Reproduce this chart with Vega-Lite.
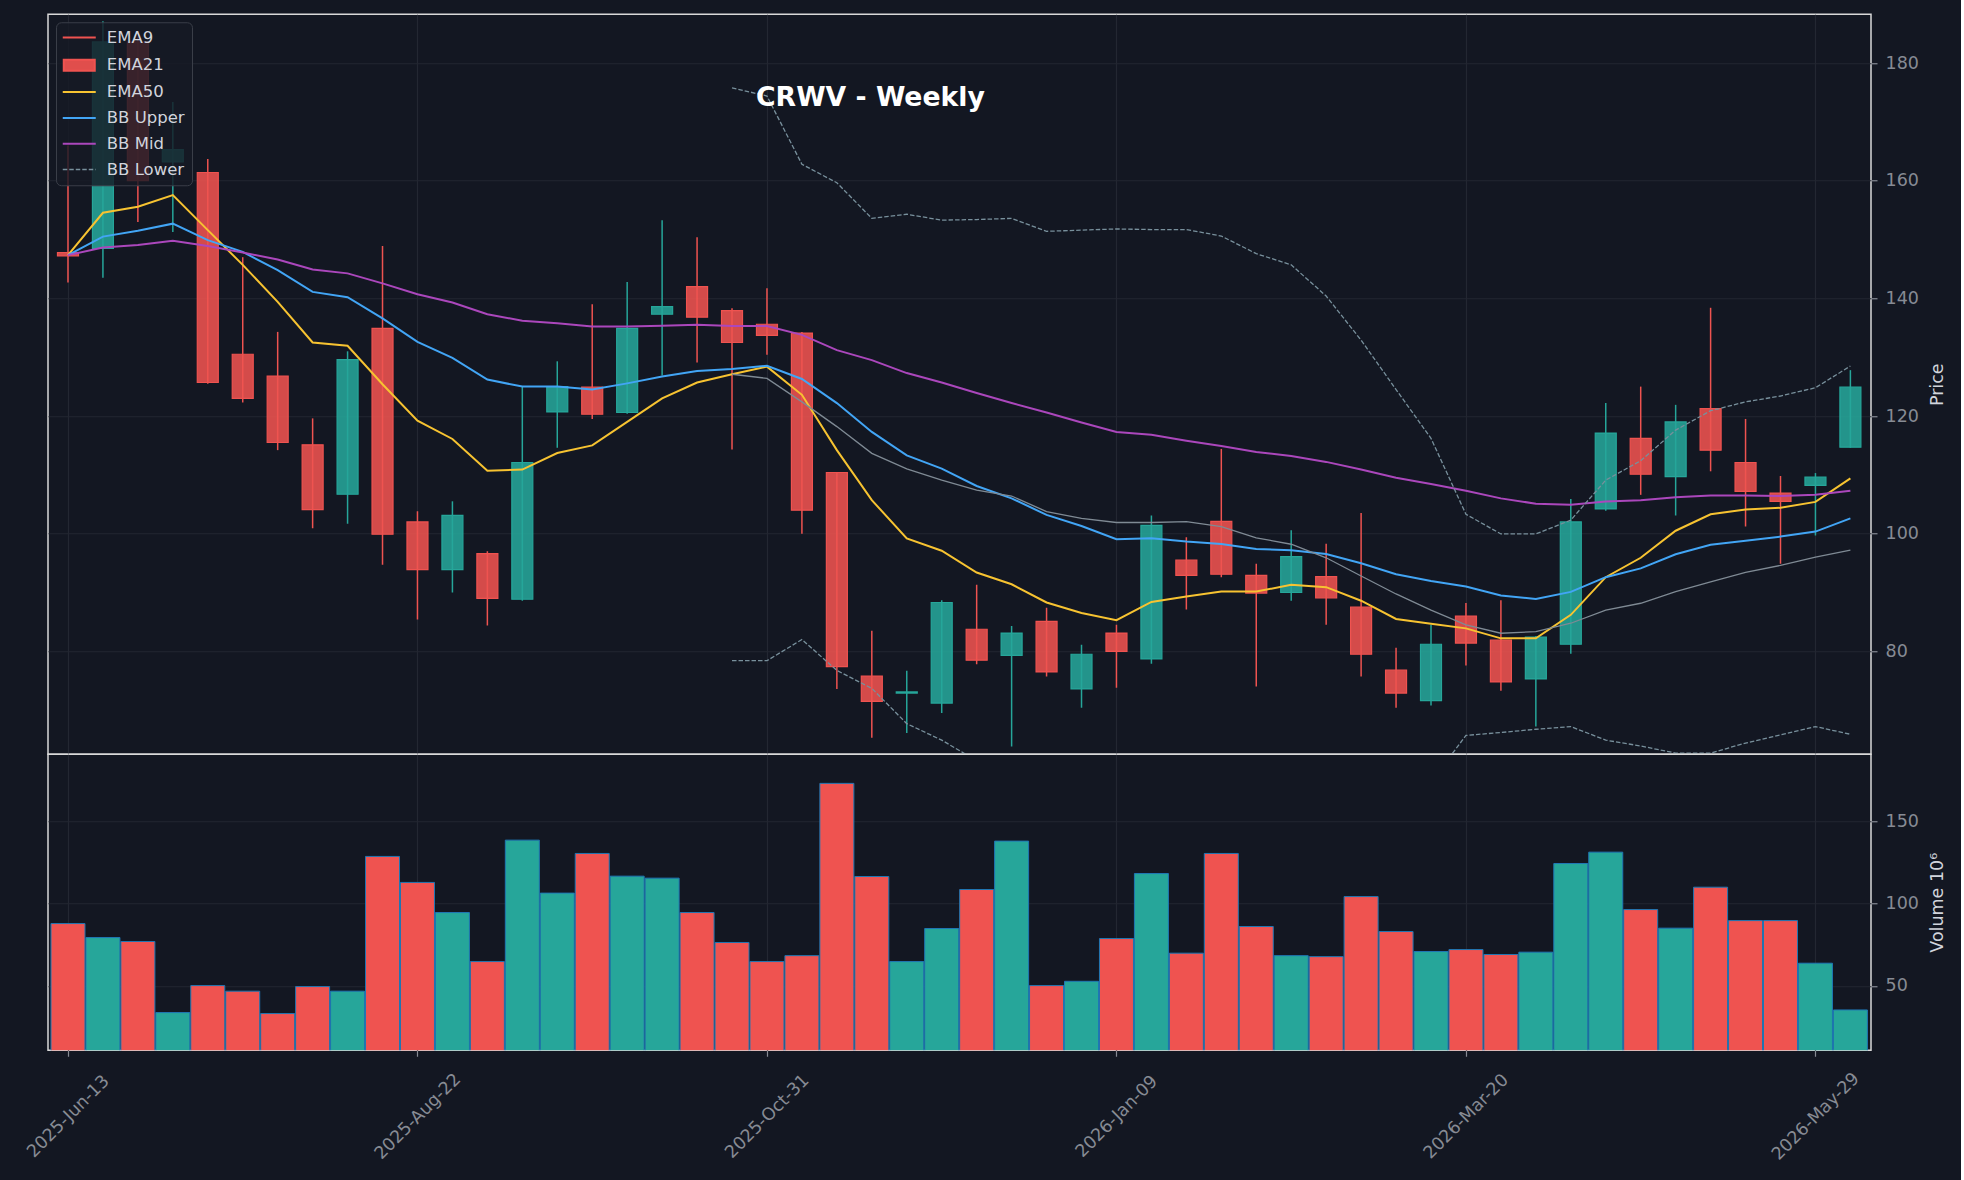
{
  "$schema": "https://vega.github.io/schema/vega-lite/v6.json",
  "background": "#131722",
  "padding": {"left": 22, "top": 13.25, "right": 14, "bottom": 16.5},
  "spacing": 0,
  "bounds": "flush",
  "data": {
    "values": [
      {"date":"2025-06-13","open":147.8,"high":166.0,"low":142.7,"close":147.2,"volume":87900000,"EMA9":147.35,"EMA21":147.35,"EMA50":147.35,"BB Upper":null,"BB Mid":null,"BB Lower":null},
      {"date":"2025-06-20","open":148.5,"high":187.1,"low":143.5,"close":183.6,"volume":79400000,"EMA9":154.55,"EMA21":150.5,"EMA50":148.66,"BB Upper":null,"BB Mid":null,"BB Lower":null},
      {"date":"2025-06-27","open":183.6,"high":184.5,"low":153.0,"close":160.0,"volume":77000000,"EMA9":155.57,"EMA21":151.5,"EMA50":149.06,"BB Upper":null,"BB Mid":null,"BB Lower":null},
      {"date":"2025-07-04","open":163.2,"high":173.4,"low":151.3,"close":165.3,"volume":33800000,"EMA9":157.55,"EMA21":152.7,"EMA50":149.8,"BB Upper":null,"BB Mid":null,"BB Lower":null},
      {"date":"2025-07-11","open":161.4,"high":163.7,"low":125.5,"close":125.7,"volume":50200000,"EMA9":151.6,"EMA21":149.9,"EMA50":148.9,"BB Upper":null,"BB Mid":null,"BB Lower":null},
      {"date":"2025-07-18","open":130.5,"high":147.0,"low":122.3,"close":123.0,"volume":46800000,"EMA9":145.7,"EMA21":147.9,"EMA50":147.8,"BB Upper":null,"BB Mid":null,"BB Lower":null},
      {"date":"2025-07-25","open":126.8,"high":134.3,"low":114.2,"close":115.5,"volume":33200000,"EMA9":139.4,"EMA21":144.8,"EMA50":146.6,"BB Upper":null,"BB Mid":null,"BB Lower":null},
      {"date":"2025-08-01","open":115.1,"high":119.6,"low":100.9,"close":104.1,"volume":49600000,"EMA9":132.5,"EMA21":141.1,"EMA50":144.9,"BB Upper":null,"BB Mid":null,"BB Lower":null},
      {"date":"2025-08-08","open":106.7,"high":131.0,"low":101.7,"close":129.6,"volume":46800000,"EMA9":131.95,"EMA21":140.2,"EMA50":144.25,"BB Upper":null,"BB Mid":null,"BB Lower":null},
      {"date":"2025-08-15","open":134.9,"high":148.9,"low":94.7,"close":99.9,"volume":128700000,"EMA9":125.4,"EMA21":136.6,"EMA50":142.55,"BB Upper":null,"BB Mid":null,"BB Lower":null},
      {"date":"2025-08-22","open":102.0,"high":103.8,"low":85.4,"close":93.9,"volume":112900000,"EMA9":119.2,"EMA21":132.6,"EMA50":140.7,"BB Upper":null,"BB Mid":null,"BB Lower":null},
      {"date":"2025-08-29","open":93.9,"high":105.5,"low":90.0,"close":103.1,"volume":94600000,"EMA9":116.1,"EMA21":129.9,"EMA50":139.3,"BB Upper":null,"BB Mid":null,"BB Lower":null},
      {"date":"2025-09-05","open":96.6,"high":97.0,"low":84.4,"close":89.0,"volume":64800000,"EMA9":110.7,"EMA21":126.2,"EMA50":137.3,"BB Upper":null,"BB Mid":null,"BB Lower":null},
      {"date":"2025-09-12","open":88.85,"high":125.0,"low":88.6,"close":112.1,"volume":138600000,"EMA9":110.9,"EMA21":125.0,"EMA50":136.2,"BB Upper":null,"BB Mid":null,"BB Lower":null},
      {"date":"2025-09-19","open":120.7,"high":129.3,"low":114.6,"close":125.0,"volume":106400000,"EMA9":113.7,"EMA21":125.0,"EMA50":135.75,"BB Upper":null,"BB Mid":null,"BB Lower":null},
      {"date":"2025-09-26","open":124.9,"high":139.0,"low":119.5,"close":120.3,"volume":130500000,"EMA9":115.0,"EMA21":124.5,"EMA50":135.2,"BB Upper":null,"BB Mid":null,"BB Lower":null},
      {"date":"2025-10-03","open":120.6,"high":142.8,"low":120.4,"close":134.9,"volume":116700000,"EMA9":119.0,"EMA21":125.55,"EMA50":135.2,"BB Upper":null,"BB Mid":null,"BB Lower":null},
      {"date":"2025-10-10","open":137.3,"high":153.3,"low":126.9,"close":138.6,"volume":115500000,"EMA9":123.0,"EMA21":126.7,"EMA50":135.35,"BB Upper":null,"BB Mid":null,"BB Lower":null},
      {"date":"2025-10-17","open":142.0,"high":150.4,"low":129.1,"close":136.8,"volume":94600000,"EMA9":125.7,"EMA21":127.65,"EMA50":135.5,"BB Upper":null,"BB Mid":null,"BB Lower":null},
      {"date":"2025-10-24","open":137.9,"high":138.3,"low":114.3,"close":132.5,"volume":76400000,"EMA9":127.1,"EMA21":128.0,"EMA50":135.3,"BB Upper":175.8,"BB Mid":127.1,"BB Lower":78.4},
      {"date":"2025-10-31","open":135.6,"high":141.7,"low":130.4,"close":133.7,"volume":64800000,"EMA9":128.4,"EMA21":128.55,"EMA50":135.3,"BB Upper":174.4,"BB Mid":126.4,"BB Lower":78.4},
      {"date":"2025-11-07","open":134.1,"high":134.3,"low":100.0,"close":104.0,"volume":68400000,"EMA9":123.6,"EMA21":126.3,"EMA50":133.8,"BB Upper":162.8,"BB Mid":122.4,"BB Lower":82.0},
      {"date":"2025-11-14","open":110.4,"high":110.5,"low":73.6,"close":77.4,"volume":173100000,"EMA9":114.2,"EMA21":122.2,"EMA50":131.2,"BB Upper":159.65,"BB Mid":118.2,"BB Lower":76.75},
      {"date":"2025-11-21","open":75.8,"high":83.5,"low":65.3,"close":71.5,"volume":116500000,"EMA9":105.7,"EMA21":117.3,"EMA50":129.5,"BB Upper":153.6,"BB Mid":113.65,"BB Lower":73.7},
      {"date":"2025-11-28","open":72.9,"high":76.7,"low":66.1,"close":73.1,"volume":64800000,"EMA9":99.2,"EMA21":113.3,"EMA50":127.3,"BB Upper":154.3,"BB Mid":111.0,"BB Lower":67.7},
      {"date":"2025-12-05","open":71.2,"high":88.7,"low":69.5,"close":88.3,"volume":84900000,"EMA9":97.1,"EMA21":111.06,"EMA50":125.7,"BB Upper":153.3,"BB Mid":109.1,"BB Lower":64.9},
      {"date":"2025-12-12","open":83.75,"high":91.3,"low":77.8,"close":78.5,"volume":108600000,"EMA9":93.4,"EMA21":108.1,"EMA50":123.9,"BB Upper":153.4,"BB Mid":107.4,"BB Lower":61.4},
      {"date":"2025-12-19","open":79.3,"high":84.3,"low":63.8,"close":83.1,"volume":138000000,"EMA9":91.4,"EMA21":106.0,"EMA50":122.2,"BB Upper":153.6,"BB Mid":106.4,"BB Lower":59.2},
      {"date":"2025-12-26","open":85.1,"high":87.4,"low":75.7,"close":76.5,"volume":50200000,"EMA9":88.3,"EMA21":103.2,"EMA50":120.6,"BB Upper":151.4,"BB Mid":103.75,"BB Lower":56.1},
      {"date":"2026-01-02","open":73.6,"high":81.1,"low":70.4,"close":79.5,"volume":52800000,"EMA9":86.5,"EMA21":101.3,"EMA50":118.9,"BB Upper":151.6,"BB Mid":102.6,"BB Lower":53.6},
      {"date":"2026-01-09","open":83.1,"high":84.5,"low":73.8,"close":80.0,"volume":78800000,"EMA9":85.3,"EMA21":99.05,"EMA50":117.3,"BB Upper":151.8,"BB Mid":101.9,"BB Lower":52.0},
      {"date":"2026-01-16","open":78.7,"high":103.1,"low":77.9,"close":101.4,"volume":118300000,"EMA9":88.4,"EMA21":99.2,"EMA50":116.8,"BB Upper":151.7,"BB Mid":101.9,"BB Lower":52.1},
      {"date":"2026-01-23","open":95.5,"high":99.4,"low":87.1,"close":92.9,"volume":69900000,"EMA9":89.3,"EMA21":98.65,"EMA50":115.8,"BB Upper":151.7,"BB Mid":102.05,"BB Lower":52.4},
      {"date":"2026-01-30","open":102.1,"high":114.4,"low":92.6,"close":93.1,"volume":130500000,"EMA9":90.15,"EMA21":98.25,"EMA50":114.9,"BB Upper":150.6,"BB Mid":101.2,"BB Lower":51.8},
      {"date":"2026-02-06","open":92.9,"high":94.9,"low":74.0,"close":89.9,"volume":86100000,"EMA9":90.15,"EMA21":97.4,"EMA50":113.9,"BB Upper":147.6,"BB Mid":99.3,"BB Lower":51.0},
      {"date":"2026-02-13","open":90.0,"high":100.6,"low":88.6,"close":96.1,"volume":68400000,"EMA9":91.3,"EMA21":97.2,"EMA50":113.2,"BB Upper":145.7,"BB Mid":98.2,"BB Lower":50.7},
      {"date":"2026-02-20","open":92.7,"high":98.3,"low":84.5,"close":89.1,"volume":67800000,"EMA9":90.9,"EMA21":96.55,"EMA50":112.2,"BB Upper":140.4,"BB Mid":95.9,"BB Lower":51.4},
      {"date":"2026-02-27","open":87.5,"high":103.5,"low":75.7,"close":79.5,"volume":104300000,"EMA9":88.6,"EMA21":94.97,"EMA50":110.9,"BB Upper":132.9,"BB Mid":92.8,"BB Lower":52.7},
      {"date":"2026-03-06","open":76.8,"high":80.6,"low":70.4,"close":72.9,"volume":83050000,"EMA9":85.5,"EMA21":93.1,"EMA50":109.5,"BB Upper":124.5,"BB Mid":89.75,"BB Lower":55.0},
      {"date":"2026-03-13","open":71.6,"high":84.5,"low":70.8,"close":81.2,"volume":70900000,"EMA9":84.7,"EMA21":91.97,"EMA50":108.45,"BB Upper":116.2,"BB Mid":87.0,"BB Lower":57.8},
      {"date":"2026-03-20","open":86.0,"high":88.2,"low":77.6,"close":81.4,"volume":72100000,"EMA9":83.9,"EMA21":91.0,"EMA50":107.3,"BB Upper":103.3,"BB Mid":84.5,"BB Lower":65.7},
      {"date":"2026-03-27","open":81.9,"high":88.7,"low":73.3,"close":74.8,"volume":69100000,"EMA9":82.2,"EMA21":89.5,"EMA50":106.0,"BB Upper":99.95,"BB Mid":83.07,"BB Lower":66.2},
      {"date":"2026-04-03","open":75.3,"high":82.6,"low":67.2,"close":82.4,"volume":70500000,"EMA9":82.2,"EMA21":88.9,"EMA50":105.1,"BB Upper":99.95,"BB Mid":83.35,"BB Lower":66.75},
      {"date":"2026-04-10","open":81.2,"high":105.9,"low":79.6,"close":102.0,"volume":124400000,"EMA9":86.2,"EMA21":90.1,"EMA50":104.9,"BB Upper":102.3,"BB Mid":84.77,"BB Lower":67.2},
      {"date":"2026-04-17","open":104.2,"high":122.2,"low":103.9,"close":117.1,"volume":131300000,"EMA9":92.6,"EMA21":92.6,"EMA50":105.45,"BB Upper":109.1,"BB Mid":87.0,"BB Lower":64.9},
      {"date":"2026-04-24","open":116.2,"high":125.0,"low":106.6,"close":110.1,"volume":96400000,"EMA9":95.9,"EMA21":94.1,"EMA50":105.7,"BB Upper":112.4,"BB Mid":88.17,"BB Lower":63.9},
      {"date":"2026-05-01","open":109.7,"high":121.9,"low":103.1,"close":119.0,"volume":85100000,"EMA9":100.5,"EMA21":96.5,"EMA50":106.2,"BB Upper":117.6,"BB Mid":90.15,"BB Lower":62.7},
      {"date":"2026-05-08","open":121.25,"high":138.4,"low":110.6,"close":114.2,"volume":110000000,"EMA9":103.3,"EMA21":98.1,"EMA50":106.5,"BB Upper":120.9,"BB Mid":91.8,"BB Lower":62.7},
      {"date":"2026-05-15","open":112.1,"high":119.5,"low":101.2,"close":107.2,"volume":89700000,"EMA9":104.1,"EMA21":98.8,"EMA50":106.5,"BB Upper":122.4,"BB Mid":93.4,"BB Lower":64.4},
      {"date":"2026-05-22","open":106.9,"high":109.8,"low":94.9,"close":105.5,"volume":89700000,"EMA9":104.4,"EMA21":99.5,"EMA50":106.4,"BB Upper":123.4,"BB Mid":94.6,"BB Lower":65.8},
      {"date":"2026-05-29","open":108.2,"high":110.3,"low":99.7,"close":109.6,"volume":63800000,"EMA9":105.4,"EMA21":100.35,"EMA50":106.6,"BB Upper":124.8,"BB Mid":96.0,"BB Lower":67.2},
      {"date":"2026-06-05","open":114.7,"high":127.8,"low":114.6,"close":124.9,"volume":35400000,"EMA9":109.4,"EMA21":102.6,"EMA50":107.3,"BB Upper":128.5,"BB Mid":97.2,"BB Lower":65.9}
    ]
  },
  "vconcat": [
    {
      "width": 1823,
      "height": 740,
      "title": {
        "text": "CRWV - Weekly",
        "anchor": "start",
        "frame": "group",
        "orient": "top",
        "offset": -124,
        "dx": 708,
        "baseline": "bottom",
        "font": "DejaVu Sans",
        "fontSize": 26.7,
        "fontWeight": "bold",
        "color": "#ffffff"
      },
      "encoding": {
        "x": {
          "field": "date",
          "type": "temporal",
          "scale": {
            "type": "utc",
            "nice": false,
            "domain": [
              {"year": 2025, "month": 6, "date": 10, "utc": true},
              {"year": 2026, "month": 6, "date": 8, "hours": 3, "utc": true}
            ]
          },
          "axis": {
            "title": null,
            "labels": false,
            "ticks": false,
            "domain": false,
            "grid": true,
            "values": [
              {"year": 2025, "month": 6, "date": 13, "utc": true},
              {"year": 2025, "month": 8, "date": 22, "utc": true},
              {"year": 2025, "month": 10, "date": 31, "utc": true},
              {"year": 2026, "month": 1, "date": 9, "utc": true},
              {"year": 2026, "month": 3, "date": 20, "utc": true},
              {"year": 2026, "month": 5, "date": 29, "utc": true}
            ]
          }
        }
      },
      "layer": [
        {
          "mark": {"type": "rule", "strokeWidth": 1.5, "clip": true},
          "encoding": {
            "y": {
              "field": "low",
              "type": "quantitative",
              "title": "Price",
              "scale": {"domain": [62.5, 188.3], "nice": false, "zero": false},
              "axis": {
                "orient": "right",
                "values": [80, 100, 120, 140, 160, 180],
                "grid": true,
                "labelPadding": 8,
                "titleAngle": 270,
                "titleBaseline": "top",
                "titlePadding": 10
              }
            },
            "y2": {"field": "high"},
            "color": {"condition": {"test": "datum.close >= datum.open", "value": "#26a69a"}, "value": "#ef5350"}
          }
        },
        {
          "mark": {"type": "bar", "width": 21, "strokeWidth": 1.2, "fillOpacity": 0.88, "clip": true},
          "encoding": {
            "y": {"field": "open", "type": "quantitative", "title": "Price"},
            "y2": {"field": "close"},
            "fill": {"condition": {"test": "datum.close >= datum.open", "value": "#26a69a"}, "value": "#ef5350"},
            "stroke": {"condition": {"test": "datum.close >= datum.open", "value": "#26a69a"}, "value": "#ef5350"}
          }
        },
        {
          "transform": [{"fold": ["EMA9", "EMA21", "EMA50"], "as": ["series", "value"]}],
          "mark": {"type": "line", "strokeWidth": 2, "clip": true},
          "encoding": {
            "y": {"field": "value", "type": "quantitative", "title": "Price"},
            "color": {
              "field": "series",
              "type": "nominal",
              "scale": {
                "domain": ["Wick", "Body", "EMA9", "EMA21", "EMA50", "BB Upper", "BB Mid", "BB Lower"],
                "range": ["#ef5350", "#ef5350", "#f7c331", "#42a5f5", "#ab47bc", "#78909c", "#7f8a94", "#78909c"]
              },
              "legend": {
                "title": null,
                "orient": "top-left",
                "offset": 7.5,
                "values": ["Wick", "Body", "EMA9", "EMA21", "EMA50", "BB Upper"],
                "labelExpr": "datum.value === 'Wick' ? 'EMA9' : datum.value === 'Body' ? 'EMA21' : datum.value === 'EMA9' ? 'EMA50' : datum.value === 'EMA21' ? 'BB Upper' : datum.value === 'EMA50' ? 'BB Mid' : 'BB Lower'",
                "fillColor": "rgba(22,26,37,0.82)",
                "strokeColor": "#3a3e48",
                "cornerRadius": 5,
                "padding": 7,
                "rowPadding": 8.8,
                "symbolSize": 100,
                "symbolType": "M-1.7,0H4.9",
                "symbolStrokeWidth": 2,
                "labelOffset": 27.3,
                "labelFont": "DejaVu Sans",
                "labelFontSize": 16.5,
                "labelColor": "#d1d4dc",
                "encode": {
                  "symbols": {
                    "update": {
                      "shape": {"signal": "datum.value === 'Body' ? 'M-1.5,-1.1H4.7V1.1H-1.5Z' : 'M-1.7,0H4.9'"},
                      "fill": {"signal": "datum.value === 'Body' ? '#e04e4c' : 'transparent'"},
                      "strokeDash": {"signal": "datum.value === 'BB Upper' ? [4.5, 2] : []"},
                      "strokeWidth": {"signal": "datum.value === 'BB Upper' ? 1.3 : 2"},
                      "opacity": {"value": 1}
                    }
                  }
                }
              }
            }
          }
        },
        {
          "transform": [{"fold": ["BB Mid"], "as": ["series", "value"]}],
          "mark": {"type": "line", "strokeWidth": 1.3, "clip": true},
          "encoding": {
            "y": {"field": "value", "type": "quantitative", "title": "Price"},
            "color": {"field": "series", "type": "nominal"}
          }
        },
        {
          "transform": [{"fold": ["BB Upper", "BB Lower"], "as": ["series", "value"]}],
          "mark": {"type": "line", "strokeWidth": 1.3, "strokeDash": [4.5, 2], "clip": true},
          "encoding": {
            "y": {"field": "value", "type": "quantitative", "title": "Price"},
            "color": {"field": "series", "type": "nominal"}
          }
        }
      ]
    },
    {
      "width": 1823,
      "height": 296,
      "mark": {"type": "bar", "width": 34, "stroke": "#1f77b4", "strokeWidth": 1, "clip": true},
      "encoding": {
        "x": {
          "field": "date",
          "type": "temporal",
          "scale": {
            "type": "utc",
            "nice": false,
            "domain": [
              {"year": 2025, "month": 6, "date": 10, "utc": true},
              {"year": 2026, "month": 6, "date": 8, "hours": 3, "utc": true}
            ]
          },
          "axis": {
            "title": null,
            "domain": false,
            "grid": true,
            "labelExpr": "utcFormat(datum.value, '%Y-%b-%d')",
            "labelAngle": -45,
            "labelAlign": "center",
            "labelBaseline": "middle",
            "labelPadding": 60,
            "labelFlush": false,
            "labelOverlap": false,
            "labelBound": false,
            "values": [
              {"year": 2025, "month": 6, "date": 13, "utc": true},
              {"year": 2025, "month": 8, "date": 22, "utc": true},
              {"year": 2025, "month": 10, "date": 31, "utc": true},
              {"year": 2026, "month": 1, "date": 9, "utc": true},
              {"year": 2026, "month": 3, "date": 20, "utc": true},
              {"year": 2026, "month": 5, "date": 29, "utc": true}
            ]
          }
        },
        "y": {
          "field": "volume",
          "type": "quantitative",
          "title": "Volume  10⁶",
          "scale": {"domain": [10900000, 190800000], "nice": false, "zero": false},
          "axis": {
            "orient": "right",
            "values": [50000000, 100000000, 150000000],
            "labelExpr": "format(datum.value / 1000000, 'd')",
            "grid": true,
            "labelPadding": 8,
            "titleAngle": 270,
            "titleBaseline": "top",
            "titlePadding": 10
          }
        },
        "y2": {"datum": 0},
        "fill": {"condition": {"test": "datum.close >= datum.open", "value": "#26a69a"}, "value": "#ef5350"}
      }
    }
  ],
  "config": {
    "font": "DejaVu Sans",
    "view": {"stroke": "#d9d9d9", "strokeWidth": 1.5, "fill": "#131722"},
    "axis": {
      "gridColor": "#232732",
      "gridWidth": 1.2,
      "tickColor": "#878b94",
      "tickSize": 6,
      "tickWidth": 1.2,
      "labelColor": "#878b94",
      "labelFont": "DejaVu Sans",
      "labelFontSize": 17.5,
      "titleColor": "#d1d4dc",
      "titleFont": "DejaVu Sans",
      "titleFontSize": 17.5,
      "titleFontWeight": "normal",
      "domain": false
    }
  }
}
